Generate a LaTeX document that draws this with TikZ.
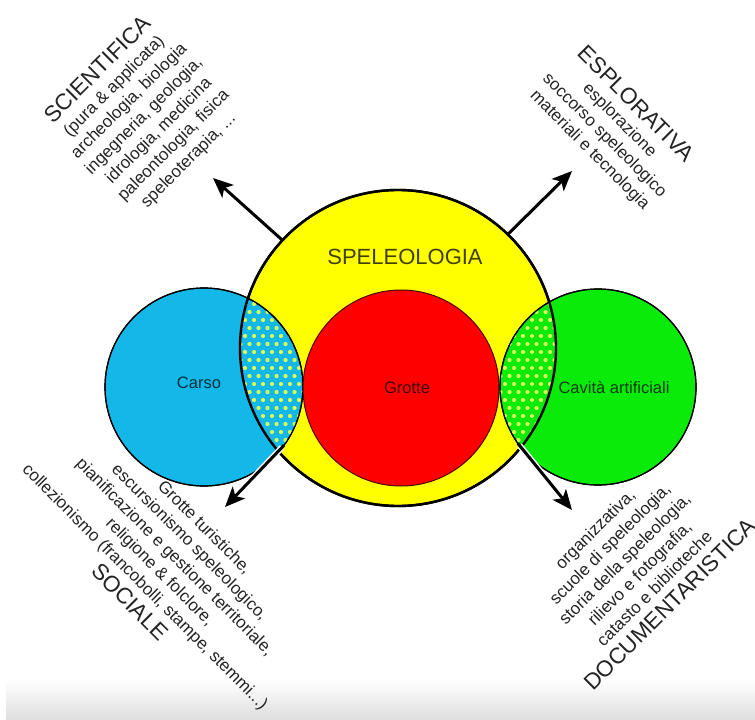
\documentclass[tikz,border=0pt]{standalone}
\usepackage{fontspec}
\setmainfont{Liberation Sans}
\usetikzlibrary{arrows.meta}

\definecolor{speleo}{RGB}{255,255,0}
\definecolor{carsoblue}{RGB}{20,184,232}
\definecolor{grottered}{RGB}{255,0,0}
\definecolor{artifgreen}{RGB}{10,235,10}
\definecolor{dotcol}{RGB}{215,255,90}
\definecolor{textgray}{RGB}{35,35,35}

\tikzset{
  ring/.style={circle, draw=black, line width=1.2pt, inner sep=0pt, outer sep=0pt},
  bigarrow/.style={line width=3pt, -{Stealth[length=20pt,width=17pt,inset=5pt]},
    preaction={draw=white, line width=6pt, shorten <=3pt}},
  blocktext/.style={align=center, text=textgray, font=\fontsize{17}{21}\selectfont, inner sep=0pt},
  inlabel/.style={text=black, text opacity=0.75, font=\fontsize{16.5}{20}\selectfont}
}
\newcommand{\headfont}{\fontsize{22.5}{24}\selectfont}

\begin{document}
\begin{tikzpicture}[x=1pt,y=-1pt]
    \useasboundingbox (0,0) rectangle (755,720);
    \shade[top color=white, bottom color=black!13] (6,680) rectangle (755,720);

    % circles
    \node[ring, fill=speleo, line width=2.4pt, minimum size=316pt] (spel) at (398,348) {};
    \node[ring, fill=carsoblue, minimum size=198pt] (carso) at (204,387) {};
    \node[ring, fill=artifgreen, minimum size=196pt] (cavita) at (598,387) {};

    % dotted lenses
    \begin{scope}
        \clip (spel.center) circle (158);
        \clip (carso.center) circle (99);
        \foreach \i in {0,...,9}
            \foreach \j in {0,...,24}
                \fill[dotcol] ({236+9*\i+4.5*mod(\j,2)},{288+8*\j}) circle (2.1);
    \end{scope}
    \begin{scope}
        \clip (spel.center) circle (158);
        \clip (cavita.center) circle (98);
        \foreach \i in {0,...,9}
            \foreach \j in {0,...,24}
                \fill[dotcol] ({496+9*\i+4.5*mod(\j,2)},{288+8*\j}) circle (2.1);
    \end{scope}
    \draw[line width=1.2pt] (carso.center) circle (99);
    \draw[line width=1.2pt] (cavita.center) circle (98);
    \draw[line width=2.4pt] (spel.center) circle (158);

    \node[ring, fill=grottered, draw=black!70!red, line width=1pt, minimum size=196pt] (grotte) at (401,388) {};

    % arrows
    \coordinate (tipNW) at (213,178);
    \coordinate (tipNE) at (572,171);
    \coordinate (tipSW) at (225,507);
    \coordinate (tipSE) at (572,510);
    \draw[bigarrow] (spel.137) -- (tipNW);
    \draw[bigarrow] (spel.46) -- (tipNE);
    \draw[bigarrow] (carso.-36) -- (tipSW);
    \draw[bigarrow] (cavita.215) -- (tipSE);

    % labels
    \node[inlabel, font=\fontsize{22}{24}\selectfont] (speltxt) at (405,257) {SPELEOLOGIA};
    \node[inlabel] (carsotxt) at (199,383) {Carso};
    \node[inlabel] (grottetxt) at (407,388) {Grotte};
    \node[inlabel] (cavitatxt) at (614,388) {Cavità artificiali};

    \node[blocktext, rotate=45] (scient) at (143,115) {{\headfont SCIENTIFICA}\\(pura \& applicata)\\archeologia, biologia\\ingegneria, geologia,\\idrologia, medicina\\paleontologia, fisica\\speleoterapia, ...};
    \node[blocktext, rotate=-45] (esplor) at (613,127) {{\headfont ESPLORATIVA}\\esplorazione\\soccorso speleologico\\materiali e tecnologia};
    \node[blocktext, rotate=-45] (sociale) at (167,565) {Grotte turistiche,\\escursionismo speleologico,\\pianificazione e gestione territoriale,\\religione \& folclore,\\collezionismo (francobolli, stampe, stemmi...)\\[3pt]{\headfont SOCIALE}};
    \node[blocktext, rotate=45] (docum) at (633,567) {organizzativa,\\scuole di speleologia,\\storia della speleologia,\\rilievo e fotografia,\\catasto e biblioteche\\[3pt]{\headfont DOCUMENTARISTICA}};
\end{tikzpicture}
\end{document}
